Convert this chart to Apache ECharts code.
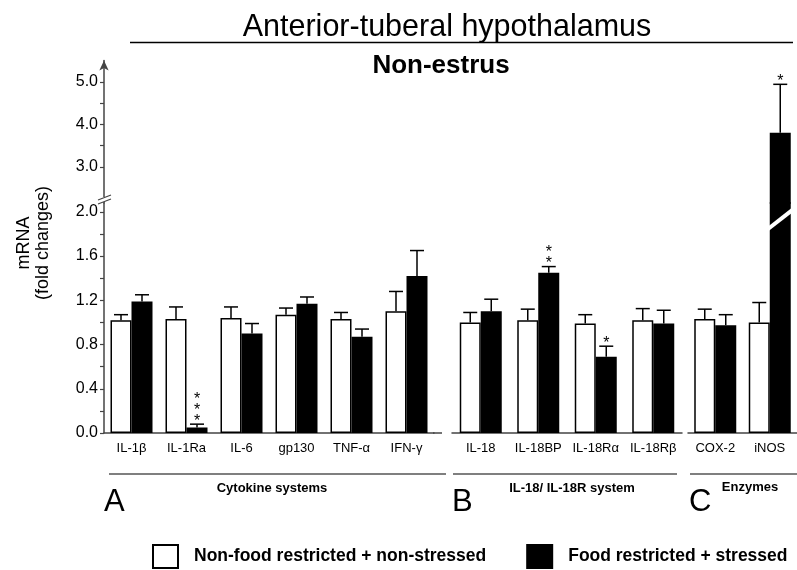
<!DOCTYPE html>
<html>
<head>
<meta charset="utf-8">
<script src="https://cdn.jsdelivr.net/npm/echarts@6/dist/echarts.min.js"></script>
<style>
html, body { margin: 0; padding: 0; background: #fff; }
#chart { width: 797px; height: 570px; }
</style>
</head>
<body>
<div id="chart"></div>
<script>
// categories per panel
var catsA = ['IL-1β', 'IL-1Ra', 'IL-6', 'gp130', 'TNF-α', 'IFN-γ'];
var catsB = ['IL-18', 'IL-18BP', 'IL-18Rα', 'IL-18Rβ'];
var catsC = ['COX-2', 'iNOS'];

// non-food restricted + non-stressed (mean, sem)
var ctrlA = [1.02, 1.03, 1.04, 1.07, 1.03, 1.10];
var ctrlAErr = [0.05, 0.11, 0.10, 0.06, 0.06, 0.18];
var ctrlB = [1.00, 1.02, 0.99, 1.02];
var ctrlBErr = [0.09, 0.10, 0.08, 0.105];
var ctrlC = [1.03, 1.00];
var ctrlCErr = [0.09, 0.18];

// food restricted + stressed (mean, sem)
var frsA = [1.19, 0.05, 0.90, 1.17, 0.87, 1.42];
var frsAErr = [0.06, 0.03, 0.09, 0.06, 0.07, 0.23];
var frsB = [1.10, 1.45, 0.69, 0.99];
var frsBErr = [0.11, 0.055, 0.095, 0.12];
var frsC = [0.975, 3.80];
var frsCErr = [0.095, 1.14];

// significance stars
var starsA = [0, 3, 0, 0, 0, 0];
var starsB = [0, 2, 1, 0];
var starsC = [0, 1];
var noStarsA = [0, 0, 0, 0, 0, 0];
var noStarsB = [0, 0, 0, 0];
var noStarsC = [0, 0];

// tick values (broken axis)
var lowTicks = [0, 0.2, 0.4, 0.6, 0.8, 1.0, 1.2, 1.4, 1.6, 1.8, 2.0];
var lowLabels = [0, 0.4, 0.8, 1.2, 1.6, 2.0];
var upTicks = [3, 3.5, 4, 4.5, 5];
var upLabels = [3, 4, 5];
var lowMax = 2.08, upMin = 2.15, upMax = 5.5;

var nameW = 'Non-food restricted + non-stressed';
var nameB = 'Food restricted + stressed';
var FONT = 'Liberation Sans, Arial, sans-serif';

var myChart = echarts.init(document.getElementById('chart'));

function bars(name, idx, data, color, border) {
	return {
		name: name,
		type: 'bar',
		xAxisIndex: idx,
		yAxisIndex: idx,
		data: data,
		barWidth: 21,
		barGap: '0%',
		silent: true,
		itemStyle: {
			color: color,
			borderColor: border ? '#000' : 'transparent',
			borderWidth: border ? 1.5 : 0
		}
	};
}

function errs(idx, mean, sem, stars, side, ymin, ymax) {
	var data = [];
	for (var i = 0; i < mean.length; i++) {
		data.push([i, mean[i], mean[i] + sem[i], stars[i]]);
	}
	return {
		type: 'custom',
		xAxisIndex: idx,
		yAxisIndex: idx,
		silent: true,
		z: 5,
		data: data,
		renderItem: function(params, api) {
			var i = api.value(0), m = api.value(1), hi = api.value(2), n = api.value(3);
			if (m > ymax || hi < ymin) {
				return;
			}
			var base = api.coord([i, m]);
			var top = api.coord([i, hi]);
			var x = base[0] + side * 10.5;
			var children = [{
				type: 'line',
				shape: { x1: x, y1: base[1], x2: x, y2: top[1] },
				style: { stroke: '#000', lineWidth: 1.5 }
			}, {
				type: 'line',
				shape: { x1: x - 7, y1: top[1], x2: x + 7, y2: top[1] },
				style: { stroke: '#000', lineWidth: 1.5 }
			}];
			for (var k = 0; k < n; k++) {
				children.push({
					type: 'text',
					style: {
						text: '*',
						x: x,
						y: top[1] - 3 - k * 11,
						fill: '#000',
						font: '16px ' + FONT,
						align: 'center',
						verticalAlign: 'middle'
					}
				});
			}
			return { type: 'group', children: children };
		}
	};
}

function above(arr) {
	return arr.map(function(v) { return v > lowMax ? v : '-'; });
}

var xLabel = { color: '#000', fontSize: 13, fontFamily: FONT, margin: 9, interval: 0 };
var axLine = { show: true, lineStyle: { color: '#444', width: 1.5 } };

var option = {
	animation: false,
	backgroundColor: '#fff',
	grid: [
		{ left: 104, width: 330, top: 203, height: 230 },
		{ left: 452, width: 230, top: 203, height: 230 },
		{ left: 688, width: 112, top: 203, height: 230 },
		{ left: 104, width: 330, top: 60.5, height: 142.5 },
		{ left: 688, width: 112, top: 60.5, height: 142.5 }
	],
	xAxis: [
		{ gridIndex: 0, type: 'category', data: catsA, axisLine: axLine, axisTick: { show: false }, axisLabel: xLabel },
		{ gridIndex: 1, type: 'category', data: catsB, axisLine: axLine, axisTick: { show: false }, axisLabel: xLabel },
		{ gridIndex: 2, type: 'category', data: catsC, axisLine: axLine, axisTick: { show: false }, axisLabel: xLabel },
		{ gridIndex: 3, type: 'category', data: catsA, show: false },
		{ gridIndex: 4, type: 'category', data: catsC, show: false }
	],
	yAxis: [
		{
			gridIndex: 0, type: 'value', min: 0, max: lowMax,
			axisLine: axLine,
			axisTick: { show: true, length: 4, customValues: lowTicks, lineStyle: { color: '#444', width: 1.2 } },
			axisLabel: {
				customValues: lowLabels, color: '#000', fontSize: 16, fontFamily: FONT, margin: 6,
				formatter: function(v) { return v.toFixed(1); }
			},
			splitLine: { show: false }
		},
		{ gridIndex: 1, type: 'value', min: 0, max: lowMax, show: false, splitLine: { show: false } },
		{ gridIndex: 2, type: 'value', min: 0, max: lowMax, show: false, splitLine: { show: false } },
		{
			gridIndex: 3, type: 'value', min: upMin, max: upMax,
			axisLine: { show: true, symbol: ['none', 'arrow'], symbolSize: [7, 10], lineStyle: { color: '#444', width: 1.5 } },
			axisTick: { show: true, length: 4, customValues: upTicks, lineStyle: { color: '#444', width: 1.2 } },
			axisLabel: {
				customValues: upLabels, color: '#000', fontSize: 16, fontFamily: FONT, margin: 6,
				formatter: function(v) { return v.toFixed(1); }
			},
			splitLine: { show: false }
		},
		{ gridIndex: 4, type: 'value', min: upMin, max: upMax, show: false, splitLine: { show: false } }
	],
	legend: {
		data: [nameW, nameB],
		left: 147,
		top: 539,
		itemWidth: 25,
		itemHeight: 23,
		itemGap: 40,
		icon: 'rect',
		selectedMode: false,
		textStyle: { fontSize: 17.5, fontWeight: 'bold', color: '#000', fontFamily: FONT, padding: [0, 0, 0, 11] }
	},
	series: [
		bars(nameW, 0, ctrlA, '#fff', true),
		bars(nameB, 0, frsA, '#000', true),
		bars(nameW, 1, ctrlB, '#fff', true),
		bars(nameB, 1, frsB, '#000', true),
		bars(nameW, 2, ctrlC, '#fff', true),
		bars(nameB, 2, frsC, '#000', true),
		bars(nameW, 4, above(ctrlC), '#fff', true),
		bars(nameB, 4, above(frsC), '#000', true),
		errs(0, ctrlA, ctrlAErr, noStarsA, -1, 0, lowMax),
		errs(0, frsA, frsAErr, starsA, 1, 0, lowMax),
		errs(1, ctrlB, ctrlBErr, noStarsB, -1, 0, lowMax),
		errs(1, frsB, frsBErr, starsB, 1, 0, lowMax),
		errs(2, ctrlC, ctrlCErr, noStarsC, -1, 0, lowMax),
		errs(2, frsC, frsCErr, starsC, 1, 0, lowMax),
		errs(4, frsC, frsCErr, starsC, 1, upMin, upMax)
	],
	graphic: [
		// titles
		{ type: 'text', x: 447, y: 28, style: { text: 'Anterior-tuberal hypothalamus', font: '30.5px ' + FONT, fill: '#000', align: 'center', verticalAlign: 'middle' } },
		{ type: 'line', shape: { x1: 130, y1: 42.5, x2: 793, y2: 42.5 }, style: { stroke: '#000', lineWidth: 1.5 } },
		{ type: 'text', x: 441, y: 66, style: { text: 'Non-estrus', font: 'bold 26px ' + FONT, fill: '#000', align: 'center', verticalAlign: 'middle' } },
		// y axis name
		{ type: 'text', x: 24, y: 243, rotation: Math.PI / 2, style: { text: 'mRNA', font: '18px ' + FONT, fill: '#000', align: 'center', verticalAlign: 'middle' } },
		{ type: 'text', x: 43, y: 243, rotation: Math.PI / 2, style: { text: '(fold changes)', font: '18px ' + FONT, fill: '#000', align: 'center', verticalAlign: 'middle' } },
		// axis break
		{ type: 'rect', z: 100, shape: { x: 100, y: 197, width: 10, height: 5 }, style: { fill: '#fff' } },
		{ type: 'line', z: 101, shape: { x1: 98, y1: 200, x2: 111, y2: 195 }, style: { stroke: '#444', lineWidth: 1.2 } },
		{ type: 'line', z: 101, shape: { x1: 98, y1: 204, x2: 111, y2: 199 }, style: { stroke: '#444', lineWidth: 1.2 } },
		// rest of panel A baseline
		{ type: 'line', shape: { x1: 433, y1: 433, x2: 442, y2: 433 }, style: { stroke: '#444', lineWidth: 1.5 } },
		// break slash over iNOS bar
		{ type: 'line', z: 100, shape: { x1: 768, y1: 229, x2: 800, y2: 204 }, style: { stroke: '#fff', lineWidth: 4 } },
		// panel group lines
		{ type: 'line', shape: { x1: 109, y1: 474, x2: 446, y2: 474 }, style: { stroke: '#555', lineWidth: 1.5 } },
		{ type: 'line', shape: { x1: 453, y1: 474, x2: 677, y2: 474 }, style: { stroke: '#555', lineWidth: 1.5 } },
		{ type: 'line', shape: { x1: 690, y1: 474, x2: 797, y2: 474 }, style: { stroke: '#555', lineWidth: 1.5 } },
		// group labels
		{ type: 'text', x: 272, y: 488, style: { text: 'Cytokine systems', font: 'bold 13px ' + FONT, fill: '#000', align: 'center', verticalAlign: 'middle' } },
		{ type: 'text', x: 572, y: 488, style: { text: 'IL-18/ IL-18R system', font: 'bold 13px ' + FONT, fill: '#000', align: 'center', verticalAlign: 'middle' } },
		{ type: 'text', x: 750, y: 487, style: { text: 'Enzymes', font: 'bold 13px ' + FONT, fill: '#000', align: 'center', verticalAlign: 'middle' } },
		// panel letters
		{ type: 'text', x: 104, y: 502, style: { text: 'A', font: '31px ' + FONT, fill: '#000', align: 'left', verticalAlign: 'middle' } },
		{ type: 'text', x: 452, y: 502, style: { text: 'B', font: '31px ' + FONT, fill: '#000', align: 'left', verticalAlign: 'middle' } },
		{ type: 'text', x: 689, y: 502, style: { text: 'C', font: '31px ' + FONT, fill: '#000', align: 'left', verticalAlign: 'middle' } }
	]
};
myChart.setOption(option);
</script>
</body>
</html>
